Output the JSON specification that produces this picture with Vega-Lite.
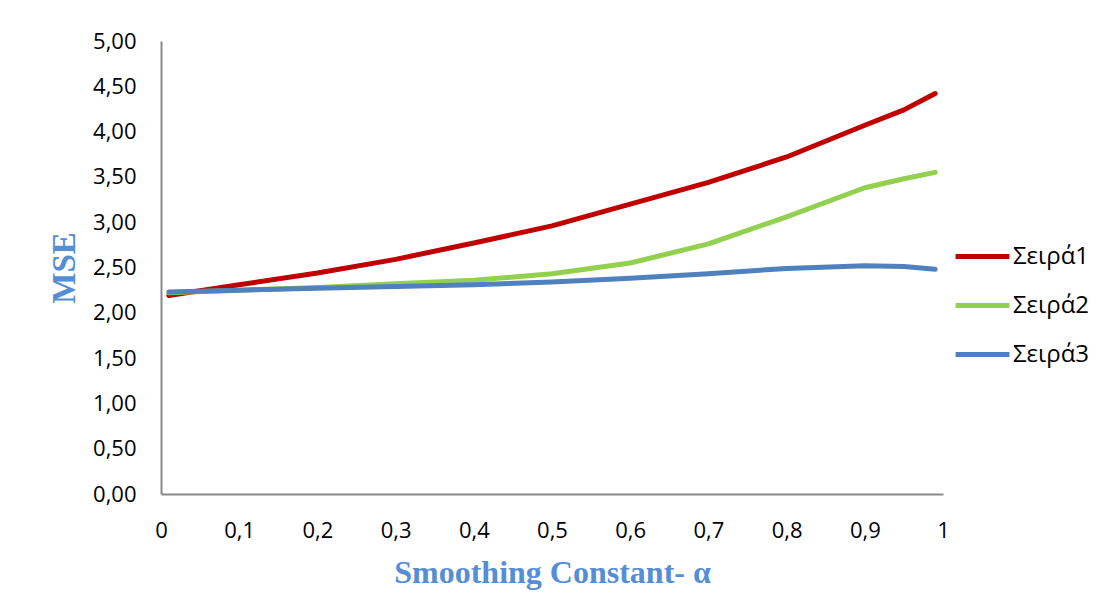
{
  "$schema": "https://vega.github.io/schema/vega-lite/v6.json",
  "autosize": "none",
  "width": 782,
  "height": 453,
  "padding": {"left": 161, "top": 41, "right": 159, "bottom": 100},
  "background": "white",
  "data": {
    "values": [
      {"a": 0.01, "mse": 2.19, "series": "Σειρά1"},
      {"a": 0.1, "mse": 2.31, "series": "Σειρά1"},
      {"a": 0.2, "mse": 2.44, "series": "Σειρά1"},
      {"a": 0.3, "mse": 2.59, "series": "Σειρά1"},
      {"a": 0.4, "mse": 2.77, "series": "Σειρά1"},
      {"a": 0.5, "mse": 2.96, "series": "Σειρά1"},
      {"a": 0.6, "mse": 3.2, "series": "Σειρά1"},
      {"a": 0.7, "mse": 3.44, "series": "Σειρά1"},
      {"a": 0.8, "mse": 3.72, "series": "Σειρά1"},
      {"a": 0.9, "mse": 4.07, "series": "Σειρά1"},
      {"a": 0.95, "mse": 4.24, "series": "Σειρά1"},
      {"a": 0.99, "mse": 4.42, "series": "Σειρά1"},
      {"a": 0.01, "mse": 2.22, "series": "Σειρά2"},
      {"a": 0.1, "mse": 2.25, "series": "Σειρά2"},
      {"a": 0.2, "mse": 2.28, "series": "Σειρά2"},
      {"a": 0.3, "mse": 2.32, "series": "Σειρά2"},
      {"a": 0.4, "mse": 2.36, "series": "Σειρά2"},
      {"a": 0.5, "mse": 2.43, "series": "Σειρά2"},
      {"a": 0.6, "mse": 2.55, "series": "Σειρά2"},
      {"a": 0.7, "mse": 2.76, "series": "Σειρά2"},
      {"a": 0.8, "mse": 3.06, "series": "Σειρά2"},
      {"a": 0.9, "mse": 3.38, "series": "Σειρά2"},
      {"a": 0.95, "mse": 3.48, "series": "Σειρά2"},
      {"a": 0.99, "mse": 3.55, "series": "Σειρά2"},
      {"a": 0.01, "mse": 2.23, "series": "Σειρά3"},
      {"a": 0.1, "mse": 2.25, "series": "Σειρά3"},
      {"a": 0.2, "mse": 2.27, "series": "Σειρά3"},
      {"a": 0.3, "mse": 2.29, "series": "Σειρά3"},
      {"a": 0.4, "mse": 2.31, "series": "Σειρά3"},
      {"a": 0.5, "mse": 2.34, "series": "Σειρά3"},
      {"a": 0.6, "mse": 2.38, "series": "Σειρά3"},
      {"a": 0.7, "mse": 2.43, "series": "Σειρά3"},
      {"a": 0.8, "mse": 2.49, "series": "Σειρά3"},
      {"a": 0.9, "mse": 2.52, "series": "Σειρά3"},
      {"a": 0.95, "mse": 2.51, "series": "Σειρά3"},
      {"a": 0.99, "mse": 2.48, "series": "Σειρά3"}
    ]
  },
  "mark": {"type": "line", "strokeWidth": 5, "strokeCap": "round", "strokeJoin": "round"},
  "encoding": {
    "x": {
      "field": "a",
      "type": "quantitative",
      "scale": {"domain": [0, 1], "nice": false, "zero": false},
      "axis": {
        "values": [0, 0.1, 0.2, 0.3, 0.4, 0.5, 0.6, 0.7, 0.8, 0.9, 1],
        "labelExpr": "replace(format(datum.value, '.1~f'), '.', ',')",
        "title": "Smoothing Constant- α",
        "grid": false,
        "ticks": false,
        "domainColor": "#898989",
        "domainWidth": 2,
        "labelFont": "Open Sans",
        "labelFontSize": 22,
        "labelColor": "#000000",
        "labelPadding": 26,
        "labelFlush": false,
        "labelOverlap": false,
        "titleFont": "Liberation Serif",
        "titleFontSize": 32,
        "titleFontWeight": "bold",
        "titleColor": "#558ED5",
        "titlePadding": 16
      }
    },
    "y": {
      "field": "mse",
      "type": "quantitative",
      "scale": {"domain": [0, 5], "nice": false},
      "axis": {
        "values": [0, 0.5, 1, 1.5, 2, 2.5, 3, 3.5, 4, 4.5, 5],
        "labelExpr": "replace(format(datum.value, '.2f'), '.', ',')",
        "title": "MSE",
        "grid": false,
        "ticks": false,
        "domainColor": "#898989",
        "domainWidth": 2,
        "labelFont": "Open Sans",
        "labelFontSize": 22,
        "labelColor": "#000000",
        "labelPadding": 25,
        "labelFlush": false,
        "labelOverlap": false,
        "titleFont": "Liberation Serif",
        "titleFontSize": 33,
        "titleFontWeight": "bold",
        "titleColor": "#558ED5",
        "titlePadding": 11
      }
    },
    "color": {
      "field": "series",
      "type": "nominal",
      "scale": {"domain": ["Σειρά1", "Σειρά2", "Σειρά3"], "range": ["#C00000", "#92D050", "#4F81BD"]},
      "legend": {
        "title": null,
        "orient": "none",
        "legendX": 792,
        "legendY": 186,
        "symbolType": "stroke",
        "symbolSize": 2900,
        "symbolStrokeWidth": 5,
        "labelFont": "Open Sans",
        "labelFontSize": 24,
        "labelColor": "#000000",
        "labelOffset": 1,
        "rowPadding": 7
      }
    }
  },
  "config": {"view": {"stroke": null}}
}
